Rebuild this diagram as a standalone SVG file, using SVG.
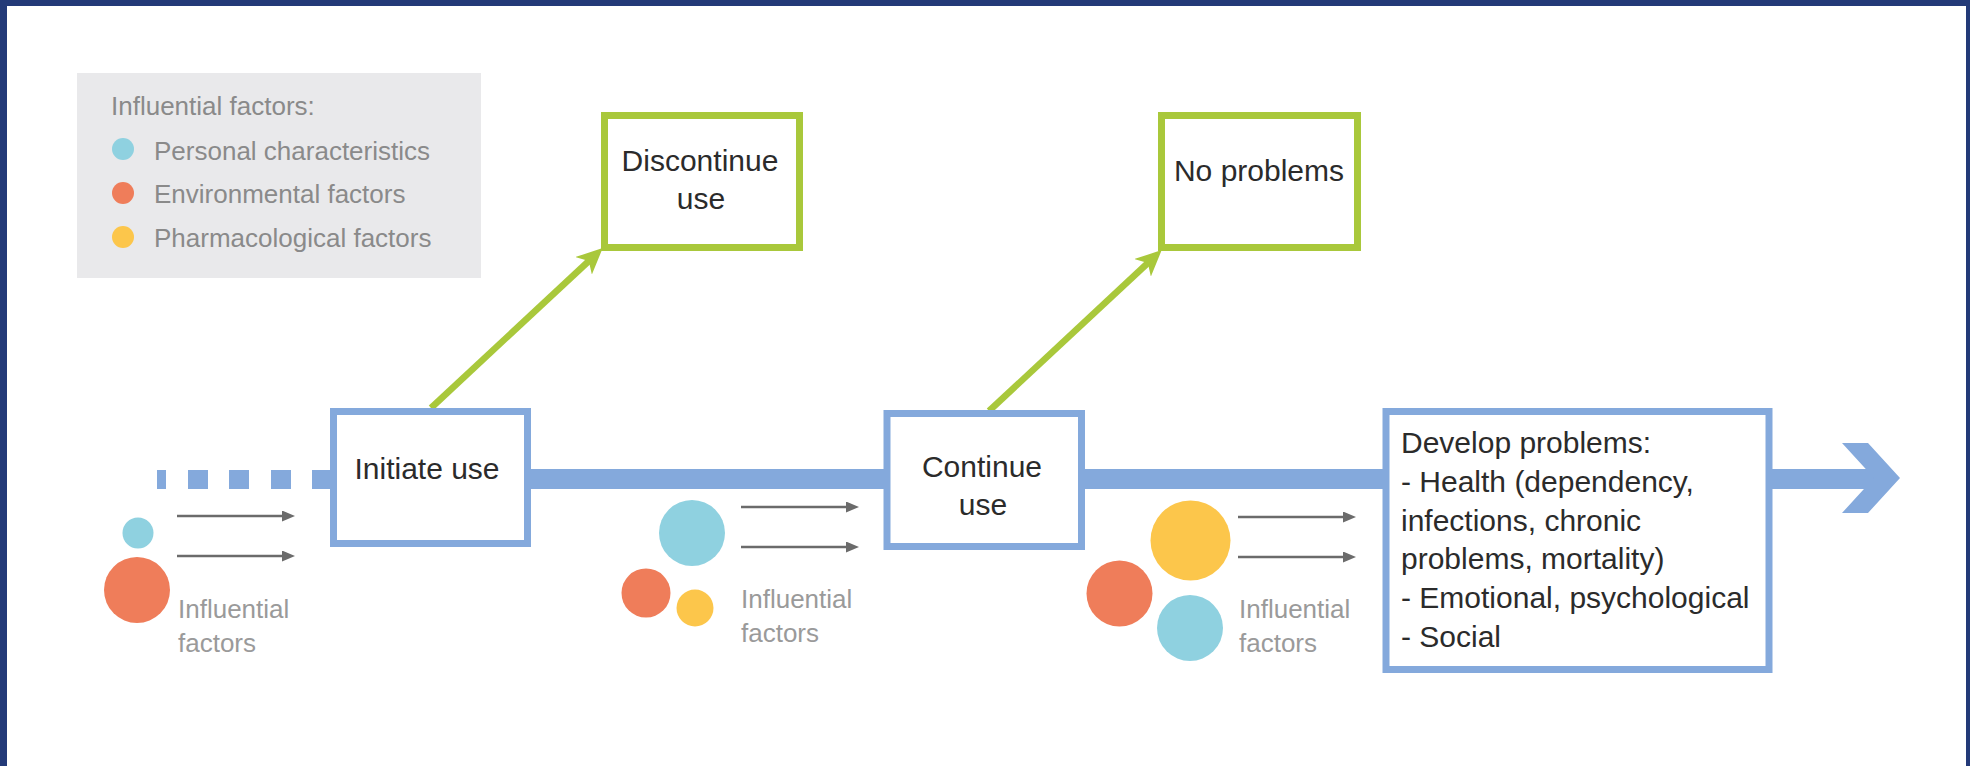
<svg xmlns="http://www.w3.org/2000/svg" width="1970" height="766" viewBox="0 0 1970 766">
  <style>
    .box-blue { fill: #ffffff; stroke: #84a9dc; stroke-width: 7; }
    .box-green { fill: #ffffff; stroke: #a9c83b; stroke-width: 7; }
    .label { font-family: "Liberation Sans", Arial, sans-serif; font-size: 30px; fill: #2b2b2b; }
    .legend { font-family: "Liberation Sans", Arial, sans-serif; font-size: 26px; fill: #8a8a8a; }
    .factor { font-family: "Liberation Sans", Arial, sans-serif; font-size: 26px; fill: #9a9a9a; }
    .green-line { stroke: #a9c83b; stroke-width: 6.5; fill: none; }
    .gray-arrow { stroke: #6b6b6b; stroke-width: 2.5; fill: none; }
    .cyan { fill: #8fd1e0; }
    .orange { fill: #ef7d5a; }
    .yellow { fill: #fcc64b; }
  </style>
  <defs>
    <marker id="gArrow" viewBox="0 0 26 24" markerWidth="26" markerHeight="24" refX="10" refY="12" orient="auto" markerUnits="userSpaceOnUse">
      <path d="M0,0 L26,12 L0,24 L7,12 Z" fill="#a9c83b"/>
    </marker>
    <marker id="kArrow" viewBox="0 0 13 11" markerWidth="13" markerHeight="11" refX="1" refY="5.5" orient="auto" markerUnits="userSpaceOnUse">
      <path d="M0,0 L13,5.5 L0,11 Z" fill="#6b6b6b"/>
    </marker>
  </defs>

  <rect x="0" y="0" width="1970" height="766" fill="#ffffff"/>
  <!-- frame -->
  <g id="frame" fill="#233a78">
    <rect x="0" y="0" width="1970" height="6"/>
    <rect x="0" y="0" width="7" height="766"/>
    <rect x="1966" y="0" width="4" height="766"/>
  </g>

  <!-- legend -->
  <g id="legend">
    <rect x="77" y="73" width="404" height="205" fill="#e9e9eb"/>
    <text class="legend" x="111" y="115">Influential factors:</text>
    <circle class="cyan" cx="123" cy="149" r="11"/>
    <text class="legend" x="154" y="160">Personal characteristics</text>
    <circle class="orange" cx="123" cy="193" r="11"/>
    <text class="legend" x="154" y="203">Environmental factors</text>
    <circle class="yellow" cx="123" cy="237" r="11"/>
    <text class="legend" x="154" y="247">Pharmacological factors</text>
  </g>

  <!-- connectors -->
  <g id="connectors">
    <g fill="#84a9dc">
      <rect x="157" y="470" width="9" height="19"/>
      <rect x="188" y="470" width="20" height="19"/>
      <rect x="229" y="470" width="20" height="19"/>
      <rect x="271" y="470" width="20" height="19"/>
      <rect x="312" y="470" width="20" height="19"/>
      <rect x="330" y="469" width="1552" height="20"/>
      <polygon points="1842,443 1868,443 1900,478 1868,513 1842,513 1874,478"/>
    </g>
    <line class="green-line" x1="431" y1="408" x2="591" y2="259" marker-end="url(#gArrow)"/>
    <line class="green-line" x1="989" y1="411" x2="1150" y2="261" marker-end="url(#gArrow)"/>
    <line class="gray-arrow" x1="177" y1="516" x2="283" y2="516" marker-end="url(#kArrow)"/>
    <line class="gray-arrow" x1="177" y1="556" x2="283" y2="556" marker-end="url(#kArrow)"/>
    <line class="gray-arrow" x1="741" y1="507" x2="847" y2="507" marker-end="url(#kArrow)"/>
    <line class="gray-arrow" x1="741" y1="547" x2="847" y2="547" marker-end="url(#kArrow)"/>
    <line class="gray-arrow" x1="1238" y1="517" x2="1344" y2="517" marker-end="url(#kArrow)"/>
    <line class="gray-arrow" x1="1238" y1="557" x2="1344" y2="557" marker-end="url(#kArrow)"/>
  </g>

  <!-- nodes -->
  <g id="initiate-use">
    <rect class="box-blue" x="333.5" y="411.5" width="194" height="132"/>
    <text class="label" x="427" y="479" text-anchor="middle">Initiate use</text>
  </g>
  <g id="discontinue-use">
    <rect class="box-green" x="604.5" y="115.5" width="195" height="132"/>
    <text class="label" x="700" y="171" text-anchor="middle">Discontinue</text>
    <text class="label" x="701" y="209" text-anchor="middle">use</text>
  </g>
  <g id="continue-use">
    <rect class="box-blue" x="887" y="413.5" width="194.5" height="133"/>
    <text class="label" x="982" y="477" text-anchor="middle">Continue</text>
    <text class="label" x="983" y="515" text-anchor="middle">use</text>
  </g>
  <g id="no-problems">
    <rect class="box-green" x="1161.5" y="115.5" width="196" height="132"/>
    <text class="label" x="1259" y="181" text-anchor="middle">No problems</text>
  </g>
  <g id="develop-problems">
    <rect class="box-blue" x="1386" y="411.5" width="383" height="258"/>
    <text class="label" x="1401" y="453">Develop problems:</text>
    <text class="label" x="1401" y="492">- Health (dependency,</text>
    <text class="label" x="1401" y="531">infections, chronic</text>
    <text class="label" x="1401" y="569">problems, mortality)</text>
    <text class="label" x="1401" y="608">- Emotional, psychological</text>
    <text class="label" x="1401" y="647">- Social</text>
  </g>

  <!-- influential factor clusters -->
  <g id="factors-1">
    <circle class="cyan" cx="138" cy="533" r="15.5"/>
    <circle class="orange" cx="137" cy="590" r="33"/>
    <text class="factor" x="178" y="618">Influential</text>
    <text class="factor" x="178" y="652">factors</text>
  </g>
  <g id="factors-2">
    <circle class="cyan" cx="692" cy="533" r="33"/>
    <circle class="orange" cx="646" cy="593" r="24.5"/>
    <circle class="yellow" cx="695" cy="608" r="18.5"/>
    <text class="factor" x="741" y="608">Influential</text>
    <text class="factor" x="741" y="642">factors</text>
  </g>
  <g id="factors-3">
    <circle class="yellow" cx="1190.5" cy="540.5" r="40"/>
    <circle class="orange" cx="1119.5" cy="593.5" r="33"/>
    <circle class="cyan" cx="1190" cy="628" r="33"/>
    <text class="factor" x="1239" y="618">Influential</text>
    <text class="factor" x="1239" y="652">factors</text>
  </g>
</svg>
